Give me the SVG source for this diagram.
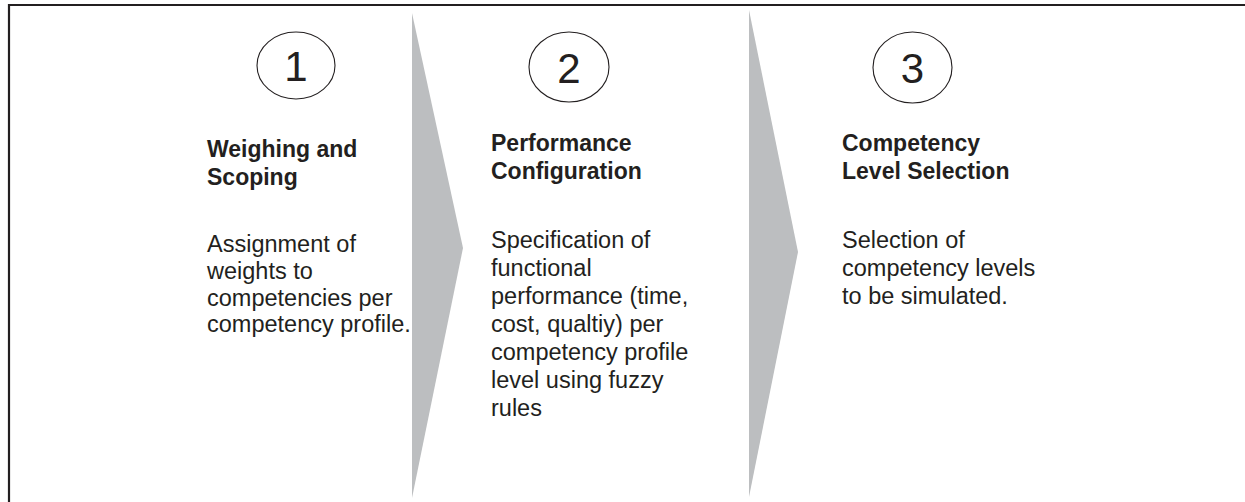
<svg xmlns="http://www.w3.org/2000/svg" width="1245" height="502" viewBox="0 0 1245 502">
<style>
.frame{fill:none;stroke:#231f20;stroke-width:2.2}
.chev{fill:#bcbec0}
.circ{fill:#fff;stroke:#231f20;stroke-width:1.1}
.num{font-family:"Liberation Sans",Arial,sans-serif;font-size:42px;fill:#231f20;text-anchor:middle}
.title{font-family:"Liberation Sans",Arial,sans-serif;font-size:23px;font-weight:bold;fill:#231f20}
.body{font-family:"Liberation Sans",Arial,sans-serif;font-size:23.5px;fill:#231f20}
</style>
<rect width="1245" height="502" fill="#fff"/>
<path class="frame" d="M9,502 V5 H1245"/>
<g id="connectors">
<polygon class="chev" points="412,13 463,248 412,498"/>
<polygon class="chev" points="749,10 798,252 749,497"/>
</g>
<g id="step1">
<ellipse class="circ" cx="296" cy="65.5" rx="39" ry="33.5"/>
<text class="num" x="296" y="81">1</text>
<text class="title" x="207"><tspan x="207" y="157">Weighing and</tspan><tspan x="207" y="185">Scoping</tspan></text>
<text class="body"><tspan x="207" y="252">Assignment of</tspan><tspan x="207" y="279">weights to</tspan><tspan x="207" y="305.5">competencies per</tspan><tspan x="207" y="332">competency profile.</tspan></text>
</g>
<g id="step2">
<ellipse class="circ" cx="569" cy="67" rx="40" ry="35"/>
<text class="num" x="569" y="82.5">2</text>
<text class="title"><tspan x="491" y="151">Performance</tspan><tspan x="491" y="179">Configuration</tspan></text>
<text class="body"><tspan x="491" y="248">Specification of</tspan><tspan x="491" y="276">functional</tspan><tspan x="491" y="304">performance (time,</tspan><tspan x="491" y="332">cost, qualtiy) per</tspan><tspan x="491" y="360">competency profile</tspan><tspan x="491" y="388">level using fuzzy</tspan><tspan x="491" y="416">rules</tspan></text>
</g>
<g id="step3">
<ellipse class="circ" cx="912.5" cy="67.5" rx="39.5" ry="35.5"/>
<text class="num" x="912.5" y="83">3</text>
<text class="title"><tspan x="842" y="151">Competency</tspan><tspan x="842" y="179">Level Selection</tspan></text>
<text class="body"><tspan x="842" y="248">Selection of</tspan><tspan x="842" y="276">competency levels</tspan><tspan x="842" y="304">to be simulated.</tspan></text>
</g>
</svg>
